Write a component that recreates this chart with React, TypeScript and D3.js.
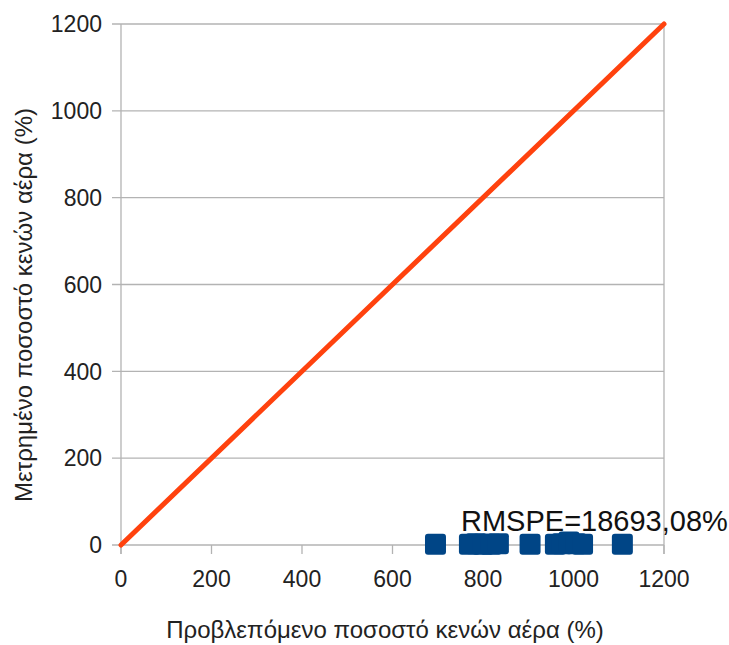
import React from "react";
import * as d3 from "d3";

const predicted = [695, 770, 785, 800, 818, 834, 904, 960, 975, 990, 1005, 1020, 1108];
const measured = [2, 2, 3, 2, 2, 3, 2, 2, 3, 7, 3, 2, 2];
const ticks = [0, 200, 400, 600, 800, 1000, 1200];
const lineX = [0, 1200];
const lineY = [0, 1200];
const xTitle = "Προβλεπόμενο ποσοστό κενών αέρα (%)";
const yTitle = "Μετρημένο ποσοστό κενών αέρα (%)";
const label = "RMSPE=18693,08%";

export default function App() {
  const W = 729, H = 645;
  const x = d3.scaleLinear().domain([0, 1200]).range([121, 664]);
  const y = d3.scaleLinear().domain([0, 1200]).range([545, 24]);
  const line = d3.line<number>().x((d) => x(lineX[d])).y((d) => y(lineY[d]));
  const font = "'Liberation Sans', Arial, sans-serif";
  const grid = "#b3b3b3";
  const s = 21;
  return (
    <svg width={W} height={H} style={{ position: "absolute", left: 0, top: 0 }} fontFamily={font}>
      <rect width={W} height={H} fill="#fff" />
      {ticks.map((t) => (
        <g key={"h" + t}>
          <line x1={112} x2={x(1200)} y1={y(t)} y2={y(t)} stroke={grid} strokeWidth={1.3} />
          <text x={102} y={y(t)} dy="0.36em" textAnchor="end" fontSize={23} fill="#222">{t}</text>
        </g>
      ))}
      <line x1={x(0)} x2={x(0)} y1={y(1200)} y2={y(0) + 9} stroke={grid} strokeWidth={1.3} />
      <line x1={x(1200)} x2={x(1200)} y1={y(1200)} y2={y(0) + 9} stroke={grid} strokeWidth={1.3} />
      {ticks.map((t) => (
        <g key={"v" + t}>
          <line x1={x(t)} x2={x(t)} y1={y(0)} y2={y(0) + 9} stroke={grid} strokeWidth={1.3} />
          <text x={x(t)} y={587} textAnchor="middle" fontSize={23} fill="#222">{t}</text>
        </g>
      ))}
      <path d={line([0, 1]) || ""} stroke="#ff420e" strokeWidth={5} strokeLinecap="round" fill="none" />
      {predicted.map((p, i) => (
        <rect key={i} x={x(p) - s / 2} y={y(measured[i]) - s / 2} width={s} height={s} rx={3} fill="#004586" />
      ))}
      <text x={461} y={531} fontSize={29} fill="#111">{label}</text>
      <text x={385} y={638} textAnchor="middle" fontSize={24} fill="#222">{xTitle}</text>
      <text transform={`translate(32,305) rotate(-90)`} textAnchor="middle" fontSize={24} fill="#222">{yTitle}</text>
    </svg>
  );
}
